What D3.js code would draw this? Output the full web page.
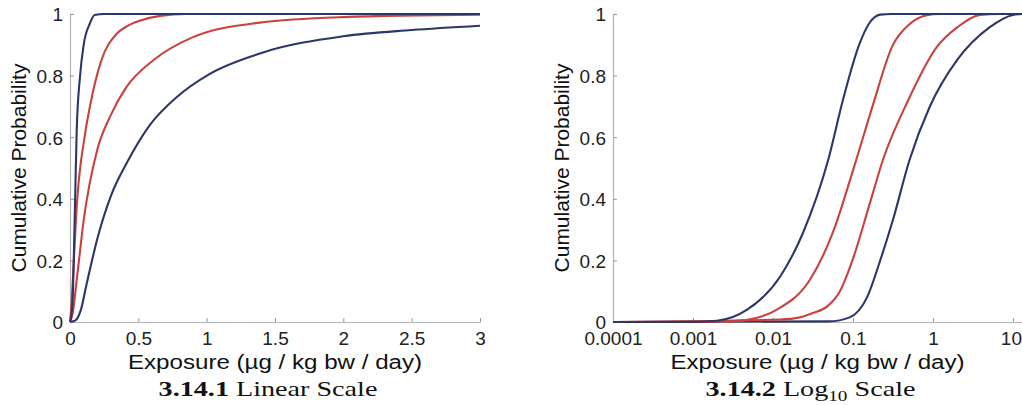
<!DOCTYPE html>
<html>
<head>
<meta charset="utf-8">
<script src="https://cdn.jsdelivr.net/npm/d3@7"></script>
<style>
  body { margin: 0; background: #fff; }
  svg { display: block; }
  .tick text { font-family: "Liberation Sans", Arial, sans-serif; font-size: 19px; fill: #222; }
  .axis-label { font-family: "Liberation Sans", Arial, sans-serif; font-size: 21px; fill: #111; }
  .caption { font-family: "Liberation Serif", "DejaVu Serif", serif; font-size: 22px; fill: #111; }
</style>
</head>
<body>
<svg id="chart" width="1022" height="405"></svg>
<script>
// values: [exposure, cumulative probability]
const yTicks = [0, 0.2, 0.4, 0.6, 0.8, 1];
const linTicks = [0, 0.5, 1, 1.5, 2, 2.5, 3];
const logTicks = [0.0001, 0.001, 0.01, 0.1, 1, 10];
const logTickLabels = ['0.0001', '0.001', '0.01', '0.1', '1', '10'];

const blue1Lin = [[0,0],[0.01,0.02],[0.02,0.08],[0.035,0.35],[0.049,0.62],[0.073,0.796],[0.1,0.9],[0.146,0.97],[0.18,0.997],[0.25,1],[3,1]];
const red1Lin  = [[0,0],[0.01,0.05],[0.02,0.13],[0.05,0.38],[0.11,0.61],[0.146,0.7],[0.23,0.85],[0.34,0.935],[0.415,0.96],[0.51,0.978],[0.66,0.994],[0.85,1],[3,1]];
const red2Lin  = [[0,0],[0.02,0.03],[0.05,0.14],[0.1,0.33],[0.2,0.56],[0.293,0.667],[0.415,0.764],[0.61,0.85],[0.9,0.925],[1.39,0.972],[2,0.99],[3,0.998]];
const blue2Lin = [[0,0],[0.04,0.005],[0.08,0.04],[0.12,0.12],[0.2,0.27],[0.3,0.41],[0.42,0.52],[0.585,0.64],[0.78,0.73],[1.02,0.805],[1.39,0.872],[2,0.928],[2.5,0.948],[3,0.962]];

const blue1Log = [[0.0001,0],[0.001,0.0005],[0.002,0.004],[0.0047,0.039],[0.0122,0.146],[0.0237,0.289],[0.049,0.526],[0.075,0.721],[0.122,0.906],[0.16,0.97],[0.22,0.998],[0.3,1],[13,1]];
const red1Log  = [[0.0001,0],[0.003,0.002],[0.006,0.012],[0.0115,0.042],[0.029,0.137],[0.056,0.29],[0.108,0.52],[0.178,0.705],[0.31,0.895],[0.5,0.965],[0.84,0.996],[1.2,1],[13,1]];
const red2Log  = [[0.0001,0],[0.0122,0.008],[0.0218,0.015],[0.0316,0.029],[0.0473,0.05],[0.0688,0.1],[0.1,0.205],[0.163,0.386],[0.237,0.526],[0.473,0.711],[1.122,0.893],[2.05,0.958],[3.87,0.997],[6.9,1],[13,1]];
const blue2Log = [[0.0001,0],[0.05,0.002],[0.091,0.015],[0.15,0.08],[0.22,0.201],[0.316,0.331],[0.51,0.526],[0.91,0.698],[2,0.85],[5.2,0.958],[10,0.997],[13,1]];

const blue = '#2c3768';
const red = '#c9423d';
const stretch = 1.15;   // horizontal texts in the picture run wide

const svg = d3.select('#chart');

const panel = (props) => {
  const { left, right, top, bottom, xScaleBase, xDomain, xTicks, xFormat, series, caption, captionSub } = props;

  const xScale = xScaleBase.domain(xDomain).range([left, right]);
  const yScale = d3.scaleLinear().domain([0, 1]).range([bottom, top]);

  const g = svg.append('g');

  const xAxis = d3.axisBottom(xScale)
    .tickValues(xTicks)
    .tickFormat(xFormat)
    .tickSize(-4)
    .tickPadding(10)
    .tickSizeOuter(0);

  const yAxis = d3.axisLeft(yScale)
    .tickValues(yTicks)
    .tickFormat(d3.format('~g'))
    .tickSize(-4)
    .tickPadding(7)
    .tickSizeOuter(0);

  const xAxisG = g.append('g')
    .attr('transform', `translate(0,${bottom})`)
    .call(xAxis);
  const yAxisG = g.append('g')
    .attr('transform', `translate(${left},0)`)
    .call(yAxis);

  [xAxisG, yAxisG].forEach(a => {
    a.select('.domain').attr('stroke', '#b4b4b4').attr('stroke-width', 1.2);
    a.selectAll('.tick line').attr('stroke', '#999');
  });
  yAxisG.selectAll('.tick text').attr('dy', '0.36em');

  // keep the last label inside the picture, as in the reference
  xAxisG.selectAll('.tick text')
    .filter(d => xScale(d) > 1005)
    .attr('dx', -2);

  const line = d3.line()
    .x(d => xScale(d[0]))
    .y(d => yScale(d[1]))
    .curve(d3.curveMonotoneX);

  g.selectAll('path.curve').data(series).enter().append('path')
    .attr('class', 'curve')
    .attr('d', d => line(d.values))
    .attr('fill', 'none')
    .attr('stroke', d => d.color)
    .attr('stroke-width', 2.1)
    .attr('stroke-linejoin', 'round');

  const mid = (left + right) / 2;

  g.append('text')
    .attr('class', 'axis-label')
    .attr('text-anchor', 'middle')
    .attr('transform', `translate(${left - 44},${(top + bottom) / 2}) rotate(-90)`)
    .text('Cumulative Probability');

  g.append('text')
    .attr('class', 'axis-label')
    .attr('text-anchor', 'middle')
    .attr('transform', `translate(${mid},${bottom + 47}) scale(${stretch},1)`)
    .text('Exposure (\u00b5g / kg bw / day)');

  const cap = g.append('text')
    .attr('class', 'caption')
    .attr('text-anchor', 'middle')
    .attr('transform', `translate(${mid - 7},${bottom + 74}) scale(1.28,1)`);
  cap.append('tspan').attr('font-weight', 'bold').text(caption[0]);
  cap.append('tspan').text(' ' + caption[1]);
  if (captionSub) {
    cap.append('tspan').attr('font-size', '15px').attr('dy', 5).text(captionSub[0]);
    cap.append('tspan').attr('dy', -5).text(captionSub[1]);
  }
};

panel({
  left: 70, right: 480, top: 14, bottom: 322,
  xScaleBase: d3.scaleLinear(),
  xDomain: [0, 3],
  xTicks: linTicks,
  xFormat: d3.format('~g'),
  series: [
    { values: blue2Lin, color: blue },
    { values: red2Lin, color: red },
    { values: red1Lin, color: red },
    { values: blue1Lin, color: blue }
  ],
  caption: ['3.14.1', 'Linear Scale']
});

panel({
  left: 613, right: 1022, top: 14, bottom: 322,
  xScaleBase: d3.scaleLog(),
  xDomain: [0.0001, 13],
  xTicks: logTicks,
  xFormat: (d, i) => logTickLabels[i],
  series: [
    { values: blue2Log, color: blue },
    { values: red2Log, color: red },
    { values: red1Log, color: red },
    { values: blue1Log, color: blue }
  ],
  caption: ['3.14.2', 'Log'],
  captionSub: ['10', ' Scale']
});
</script>
</body>
</html>
